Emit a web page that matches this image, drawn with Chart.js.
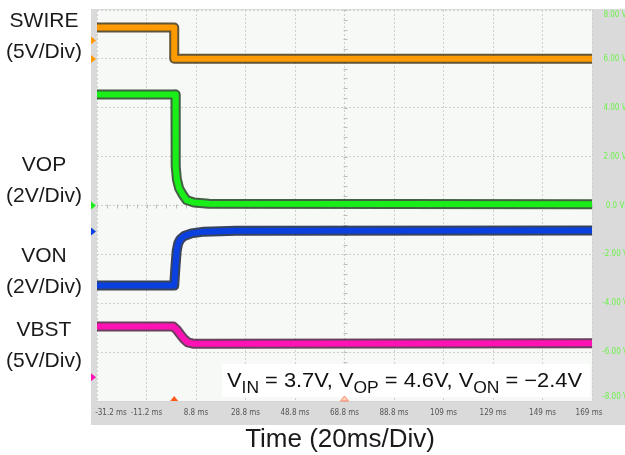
<!DOCTYPE html>
<html>
<head>
<meta charset="utf-8">
<script src="https://cdn.jsdelivr.net/npm/chart.js@4"></script>
<style>
  html, body { margin: 0; padding: 0; background: #fff; }
  #wrap { width: 625px; height: 455px; }
</style>
</head>
<body>
<div id="wrap"><canvas id="scope" width="625" height="455"></canvas></div>
<script>
// time axis (ms) and screen volts (2 V per division on the right scale)
const timeTicks = [-31.2, -11.2, 8.8, 28.8, 48.8, 68.8, 88.8, 108.8, 128.8, 148.8, 168.8];
const timeLabels = ["-31.2 ms","-11.2 ms","8.8 ms","28.8 ms","48.8 ms","68.8 ms","88.8 ms","109 ms","129 ms","149 ms","169 ms"];
const voltTicks = [8, 6, 4, 2, 0, -2, -4, -6, -8];
const voltLabels = ["8.00 V","6.00 V","4.00 V","2.00 V","0.0 V","-2.00 V","-4.00 V","-6.00 V","-8.00 V"];

const swireT = [-31.2, 0, 0, 168.8];
const swireV = [7.28, 7.28, 6.01, 6.01];

const vopT = [-31.2, 0.5, 0.6, 1.1, 2.0, 3.4, 5.0, 8.0, 14, 168.8];
const vopV = [4.54, 4.54, 1.6, 1.06, 0.7, 0.45, 0.22, 0.12, 0.07, 0.05];

const vonT = [-31.2, 0, 0.5, 1.0, 1.6, 2.5, 4, 7, 12, 25, 168.8];
const vonV = [-3.27, -3.27, -2.5, -1.85, -1.55, -1.38, -1.25, -1.14, -1.07, -1.03, -1.02];

const vbstT = [-31.2, -0.4, 1, 2.5, 4, 5.5, 8, 15, 168.8];
const vbstV = [-4.95, -4.95, -5.08, -5.28, -5.47, -5.6, -5.66, -5.66, -5.64];

const channelNames = ["SWIRE", "VOP", "VON", "VBST"];
const channelScales = ["(5V/Div)", "(2V/Div)", "(2V/Div)", "(5V/Div)"];
const channelColors = ["#ff9a00", "#19ee19", "#0a3fe0", "#ff12b4"];
const channelEdges = ["rgba(60,42,8,0.8)", "rgba(22,58,22,0.8)", "rgba(10,22,54,0.8)", "rgba(74,16,56,0.8)"];
const refLevels = [[6.75, 6.0], [0], [-1.06], [-7.03]];
const trigTimes = [0, 68.8];

const series = [[swireT, swireV], [vopT, vopV], [vonT, vonV], [vbstT, vbstV]];

function pts(t, v) { return t.map((x, i) => ({ x, y: v[i] })); }

// chart.js paints the first dataset last, so each core goes before its dark edge
const datasets = [];
series.forEach((s, i) => {
  datasets.push({ data: pts(s[0], s[1]), borderColor: channelColors[i], borderWidth: 6,
    pointRadius: 0, tension: 0, borderJoinStyle: "round" });
  datasets.push({ data: pts(s[0], s[1]), borderColor: channelEdges[i], borderWidth: 10,
    pointRadius: 0, tension: 0, borderJoinStyle: "round" });
});

const scopeDecor = {
  id: "scopeDecor",
  beforeDraw(chart) {
    const { ctx, chartArea: a } = chart;
    ctx.save();
    ctx.fillStyle = "#fff";
    ctx.fillRect(0, 0, chart.width, chart.height);
    ctx.fillStyle = "#dadada";
    ctx.fillRect(a.left - 6, a.top - 1, chart.width - a.left + 6, a.bottom - a.top + 25);
    ctx.fillStyle = "#f6f9f6";
    ctx.fillRect(a.left, a.top, a.right - a.left, a.bottom - a.top);
    ctx.restore();
  },
  beforeDatasetsDraw(chart) {
    const { ctx, scales: { x, y } } = chart;
    // center cross minor ticks
    ctx.save();
    ctx.strokeStyle = "#bdbdbd";
    ctx.lineWidth = 1;
    const y0 = Math.round(y.getPixelForValue(0)) + 0.5;
    const xc = Math.round(x.getPixelForValue(68.8)) + 0.5;
    ctx.beginPath();
    for (let t = -31.2; t <= 168.9; t += 4) {
      const px = Math.round(x.getPixelForValue(t)) + 0.5;
      ctx.moveTo(px, y0 - 2); ctx.lineTo(px, y0 + 2);
    }
    for (let v = -8; v <= 8.01; v += 0.4) {
      const py = Math.round(y.getPixelForValue(v)) + 0.5;
      ctx.moveTo(xc - 2, py); ctx.lineTo(xc + 2, py);
    }
    ctx.stroke();
    ctx.restore();
  },
  afterDraw(chart) {
    const { ctx, chartArea: a, scales: { x, y } } = chart;
    ctx.save();

    // annotation box
    ctx.fillStyle = "#fff";
    ctx.fillRect(222, 364, a.right - 2 - 222, 33);
    const parts = [["V", 0], ["IN", 1], [" = 3.7V, V", 0], ["OP", 1], [" = 4.6V, V", 0], ["ON", 1], [" = \u22122.4V", 0]];
    const mainF = "20px 'Liberation Sans', Arial, sans-serif";
    const subF = "16px 'Liberation Sans', Arial, sans-serif";
    let w = 0;
    parts.forEach(p => { ctx.font = p[1] ? subF : mainF; w += ctx.measureText(p[0]).width; });
    ctx.translate(227, 0);
    ctx.scale(355 / w, 1);
    let cx = 0;
    ctx.fillStyle = "#111";
    ctx.textBaseline = "alphabetic";
    ctx.textAlign = "left";
    parts.forEach(p => {
      ctx.font = p[1] ? subF : mainF;
      ctx.fillText(p[0], cx, p[1] ? 393 : 387);
      cx += ctx.measureText(p[0]).width;
    });
    ctx.setTransform(1, 0, 0, 1, 0, 0);

    // time tick labels
    ctx.font = "8px 'Liberation Sans Narrow', 'DejaVu Sans Condensed', sans-serif";
    ctx.fillStyle = "#555";
    ctx.textAlign = "center";
    ctx.textBaseline = "middle";
    timeTicks.forEach((t, i) => {
      let px = x.getPixelForValue(t);
      px = Math.min(Math.max(px, a.left + 14), a.right - 3);
      ctx.fillText(timeLabels[i], px, a.bottom + 12);
    });

    // volt labels on the right panel
    ctx.fillStyle = "#6cf24a";
    voltTicks.forEach((v, i) => {
      let py = y.getPixelForValue(v);
      py = Math.min(Math.max(py, a.top + 5), a.bottom - 4);
      ctx.fillText(voltLabels[i], a.right + 23, py);
    });

    // channel names and scales
    ctx.font = "21px 'Liberation Sans', Arial, sans-serif";
    ctx.fillStyle = "#1a1a1a";
    const nameY = [21, 165, 256, 330];
    nameY.forEach((ny, i) => {
      ctx.fillText(channelNames[i], 44, ny);
      ctx.fillText(channelScales[i], 44, ny + 31);
    });

    // axis title
    ctx.font = "26px 'Liberation Sans', Arial, sans-serif";
    ctx.fillText("Time (20ms/Div)", 340, 440);

    // reference markers in the left strip
    refLevels.forEach((lv, i) => {
      ctx.fillStyle = channelColors[i];
      lv.forEach(v => {
        const py = y.getPixelForValue(v);
        ctx.beginPath();
        ctx.moveTo(a.left - 6, py - 4);
        ctx.lineTo(a.left - 1, py);
        ctx.lineTo(a.left - 6, py + 4);
        ctx.closePath();
        ctx.fill();
      });
    });

    // trigger markers
    trigTimes.forEach((t, i) => {
      const px = x.getPixelForValue(t);
      ctx.beginPath();
      ctx.moveTo(px - 4, a.bottom);
      ctx.lineTo(px, a.bottom - 5);
      ctx.lineTo(px + 4, a.bottom);
      ctx.closePath();
      if (i === 0) { ctx.fillStyle = "#ff5a1a"; ctx.fill(); }
      else { ctx.fillStyle = "#ffd0b8"; ctx.fill(); ctx.strokeStyle = "#ff8a6a"; ctx.lineWidth = 1; ctx.stroke(); }
    });

    ctx.restore();
  }
};

new Chart(document.getElementById("scope"), {
  type: "line",
  data: { datasets },
  options: {
    responsive: false,
    animation: false,
    layout: { padding: { left: 97, right: 33, top: 10, bottom: 54 } },
    plugins: { legend: { display: false }, tooltip: { enabled: false } },
    scales: {
      x: {
        type: "linear", min: -31.2, max: 168.8,
        afterBuildTicks: s => { s.ticks = timeTicks.map(v => ({ value: v })); },
        ticks: { display: false },
        grid: { color: "#cfcfcf", drawTicks: false },
        border: { display: false, dash: [2, 2] }
      },
      y: {
        min: -8, max: 8,
        afterBuildTicks: s => { s.ticks = voltTicks.map(v => ({ value: v })); },
        ticks: { display: false },
        grid: { color: "#cfcfcf", drawTicks: false },
        border: { display: false, dash: [2, 2] }
      }
    }
  },
  plugins: [scopeDecor]
});
</script>
</body>
</html>
